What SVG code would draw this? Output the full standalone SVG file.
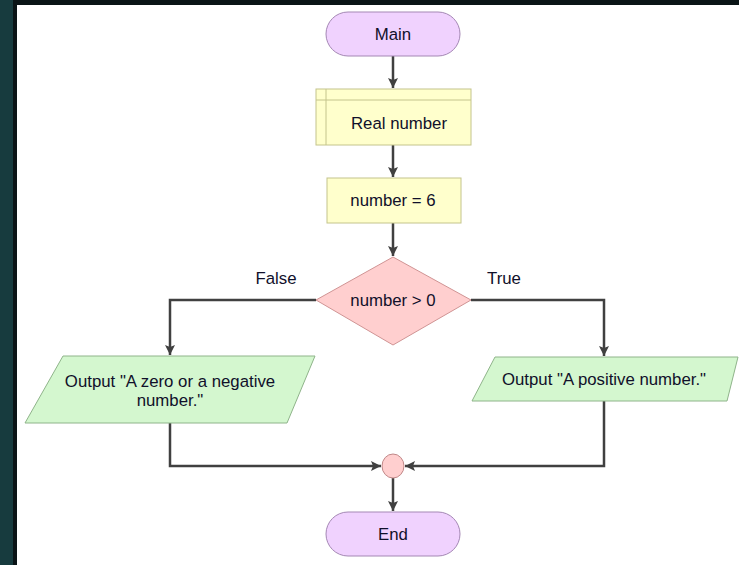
<svg xmlns="http://www.w3.org/2000/svg" width="739" height="565" viewBox="0 0 739 565">
<style>
text{font-family:"Liberation Sans",Arial,sans-serif;font-size:16.8px;fill:#10102a;text-anchor:middle;dominant-baseline:central}
.term{fill:#f0d2fe;stroke:#a487b4;stroke-width:1}
.proc{fill:#ffffcc;stroke:#c4c48c;stroke-width:1}
.dec{fill:#ffcfcf;stroke:#d09494;stroke-width:1}
.io{fill:#d4f7cf;stroke:#8fb48a;stroke-width:1}
.conn{fill:none;stroke:#404040;stroke-width:2.5}
</style>
<defs>
<marker id="ah" markerWidth="10" markerHeight="10" viewBox="0 0 10 10" refX="10" refY="5" orient="auto" markerUnits="userSpaceOnUse">
<path d="M0,0 L10,5 L0,10 L2,5 Z" fill="#404040"/>
</marker>
</defs>
<rect x="0" y="0" width="739" height="565" fill="#173b3e"/>
<rect x="13" y="0" width="726" height="6" fill="#0a1416"/>
<rect x="13" y="0" width="4" height="565" fill="#0a1416"/>
<rect x="17" y="5" width="722" height="560" fill="#ffffff"/>
<g id="connectors">
<path class="conn" d="M393,56 V88" marker-end="url(#ah)"/>
<path class="conn" d="M393,145 V177" marker-end="url(#ah)"/>
<path class="conn" d="M393,223 V256" marker-end="url(#ah)"/>
<path class="conn" d="M316,300 H170 V355" marker-end="url(#ah)"/>
<path class="conn" d="M471,300 H604 V356" marker-end="url(#ah)"/>
<path class="conn" d="M170,423 V466 H381" marker-end="url(#ah)"/>
<path class="conn" d="M604,401 V466 H405" marker-end="url(#ah)"/>
<path class="conn" d="M393,478 V511" marker-end="url(#ah)"/>
<text x="276" y="278">False</text>
<text x="504" y="278">True</text>
</g>
<g id="main">
<rect class="term" x="326" y="12" width="134" height="44" rx="22" ry="22"/>
<text x="393" y="34">Main</text>
</g>
<g id="declare">
<rect class="proc" x="316" y="89" width="155" height="56"/>
<line class="proc" x1="326" y1="89" x2="326" y2="145"/>
<line class="proc" x1="316" y1="100" x2="471" y2="100"/>
<text x="399" y="123">Real number</text>
</g>
<g id="assign">
<rect class="proc" x="327" y="178" width="134" height="45"/>
<text x="393" y="200">number = 6</text>
</g>
<g id="decision">
<polygon class="dec" points="393,257 471,300 393,345 316,300"/>
<text x="393" y="300">number &gt; 0</text>
</g>
<g id="out-neg">
<polygon class="io" points="63,356 315,356 287,423 25,423"/>
<text x="170" y="381">Output "A zero or a negative</text>
<text x="170" y="400">number."</text>
</g>
<g id="out-pos">
<polygon class="io" points="495,357 738,357 727,401 472,401"/>
<text x="604" y="379">Output "A positive number."</text>
</g>
<g id="join">
<ellipse cx="393" cy="466" rx="11" ry="12" fill="#ffcfcf" stroke="#c08888" stroke-width="1"/>
</g>
<g id="end">
<rect class="term" x="326" y="512" width="134" height="44" rx="22" ry="22"/>
<text x="393" y="534">End</text>
</g>
</svg>
